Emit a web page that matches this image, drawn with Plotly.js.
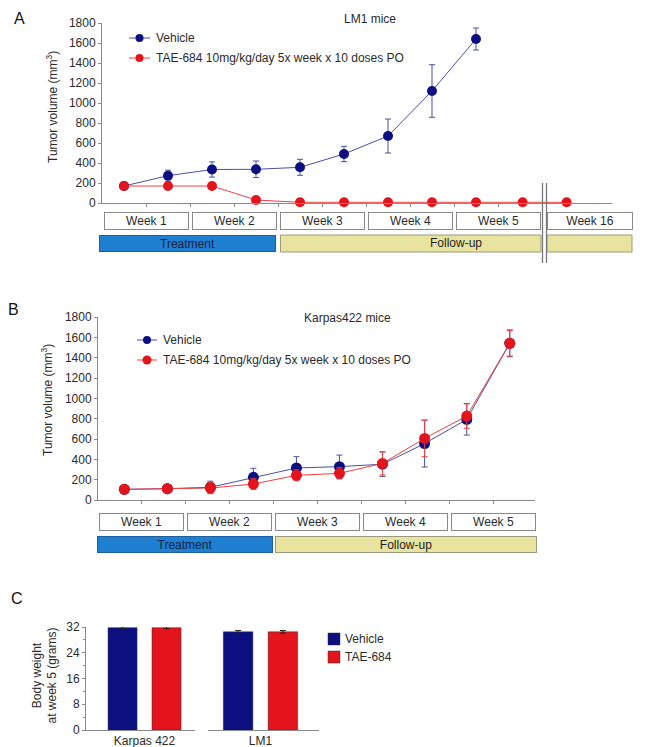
<!DOCTYPE html>
<html><head><meta charset="utf-8">
<script src="https://cdn.plot.ly/plotly-3.0.1.min.js"></script>
<style>html,body{margin:0;padding:0;background:#fff}#chart{width:645px;height:747px}</style>
</head><body><div id="chart"></div>
<script>
// ---------- DATA ----------
// Panel A: LM1 mice (time = displayed position in weeks on the broken axis)
const timeVehA = [0.25, 0.75, 1.25, 1.75, 2.25, 2.75, 3.25, 3.75, 4.25];
const vehA     = [170, 273, 335, 337, 357, 490, 670, 1120, 1640];
const vehAerr  = [0, 55, 76, 83, 80, 77, 170, 263, 110];
const timeTaeA = [0.25, 0.75, 1.25, 1.75, 2.25, 2.75, 3.25, 3.75, 4.25, 4.78, 5.28];
const taeA     = [170, 170, 170, 30, 7, 7, 7, 7, 7, 7, 7];
const weeksA   = ['Week 1', 'Week 2', 'Week 3', 'Week 4', 'Week 5', 'Week 16'];

// Panel B: Karpas422 mice
const timeB    = [0.30, 0.79, 1.28, 1.77, 2.26, 2.75, 3.24, 3.72, 4.20, 4.69];
const vehB     = [105, 111, 125, 223, 315, 328, 352, 555, 793, 1541];
const vehBerr  = [8, 8, 60, 89, 111, 114, 120, 230, 154, 132];
const taeB     = [105, 111, 118, 157, 243, 262, 360, 606, 826, 1541];
const taeBerr  = [8, 8, 55, 52, 53, 56, 114, 180, 121, 125];
const weeksB   = ['Week 1', 'Week 2', 'Week 3', 'Week 4', 'Week 5'];

// Panel C: body weight at week 5
const bwGroups = ['Karpas 422', 'LM1'];
const bwVeh    = [31.8, 30.5];
const bwVehErr = [0.3, 0.4];
const bwTae    = [31.8, 30.5];
const bwTaeErr = [0.35, 0.4];

const seriesNames = ['Vehicle', 'TAE-684 10mg/kg/day 5x week x 10 doses PO'];
const barNames = ['Vehicle', 'TAE-684'];

// ---------- STYLE / LAYOUT ----------
const W = 645, H = 747;
const px = v => v / W;
const py = v => (H - v) / H;
const FONT = 'Liberation Sans, Arial, Helvetica, sans-serif';
const NAVY = '#0b0f80', NAVY_LINE = '#4d4fa3', RED = '#e3141b', RED_LINE = '#ee4040';
const AX = '#8a8a8a', TXT = '#2a2a2a';

const axisBase = {
  showgrid: false, zeroline: false, showline: true, linecolor: AX, linewidth: 1,
  ticks: 'outside', ticklen: 3, tickcolor: AX, tickwidth: 1,
  tickfont: {family: FONT, size: 12, color: TXT}, fixedrange: true
};

const pxPerWeekA = 88, pxPerWeekB = 87.8;

const traces = [];
function lineTrace(x, y, err, name, col, lcol, xa, ya, msize) {
  return {
    type: 'scatter', mode: 'lines+markers', x: x, y: y, name: name,
    xaxis: xa, yaxis: ya, cliponaxis: false, showlegend: false,
    line: {color: lcol, width: 1},
    marker: {color: col, size: msize},
    error_y: err ? {type: 'data', array: err, visible: true, color: lcol, thickness: 1, width: 3} : {visible: false}
  };
}
traces.push(lineTrace(timeVehA, vehA, vehAerr, seriesNames[0], NAVY, NAVY_LINE, 'x', 'y', 10));
traces.push(lineTrace(timeTaeA, taeA, null, seriesNames[1], RED, RED_LINE, 'x', 'y', 10));
traces.push(lineTrace(timeB, vehB, vehBerr, seriesNames[0], NAVY, NAVY_LINE, 'x2', 'y2', 11));
traces.push(lineTrace(timeB, taeB, taeBerr, seriesNames[1], RED, RED_LINE, 'x2', 'y2', 11));

bwGroups.forEach((g, i) => {
  const xa = i === 0 ? 'x3' : 'x4';
  traces.push({type: 'bar', x: [g], y: [bwVeh[i]], name: barNames[0], xaxis: xa, yaxis: 'y3',
    offsetgroup: 'v', showlegend: false, marker: {color: NAVY, line: {color: '#333', width: 0.5}},
    error_y: {type: 'data', array: [bwVehErr[i]], color: '#222', thickness: 1, width: 3}});
  traces.push({type: 'bar', x: [g], y: [bwTae[i]], name: barNames[1], xaxis: xa, yaxis: 'y3',
    offsetgroup: 't', showlegend: false, marker: {color: RED, line: {color: '#333', width: 0.5}},
    error_y: {type: 'data', array: [bwTaeErr[i]], color: '#222', thickness: 1, width: 3}});
});

const halfTicks = [0.5, 1, 1.5, 2, 2.5, 3, 3.5, 4, 4.5];

const layout = {
  width: W, height: H, margin: {l: 0, r: 0, t: 0, b: 0},
  paper_bgcolor: '#fff', plot_bgcolor: 'rgba(0,0,0,0)',
  font: {family: FONT, size: 12, color: TXT},
  showlegend: false, barmode: 'group', bargap: 0.193, bargroupgap: 0.34,
  xaxis: Object.assign({}, axisBase, {domain: [px(102), px(612)], range: [0, 510 / pxPerWeekA],
    tickmode: 'array', tickvals: halfTicks, showticklabels: false, anchor: 'y'}),
  yaxis: Object.assign({}, axisBase, {domain: [py(203), py(23)], range: [0, 1800], dtick: 200, anchor: 'x'}),
  xaxis2: Object.assign({}, axisBase, {domain: [px(98), px(535)], range: [0, 437 / pxPerWeekB],
    tickmode: 'array', tickvals: halfTicks, showticklabels: false, anchor: 'y2'}),
  yaxis2: Object.assign({}, axisBase, {domain: [py(500), py(317)], range: [0, 1800], dtick: 200, anchor: 'x2'}),
  xaxis3: Object.assign({}, axisBase, {domain: [px(86), px(195)], type: 'category', range: [-0.537, 0.463],
    ticks: '', anchor: 'y3', ticklabelstandoff: 0}),
  xaxis4: Object.assign({}, axisBase, {domain: [px(208), px(319)], type: 'category', range: [-0.473, 0.527],
    ticks: '', anchor: 'y3', ticklabelstandoff: 0}),
  yaxis3: Object.assign({}, axisBase, {domain: [py(730), py(627)], range: [0, 32], dtick: 8, anchor: 'x3',
    minor: {dtick: 4, ticks: 'outside', ticklen: 2, tickcolor: AX}}),
  annotations: [], shapes: []
};

const A = layout.annotations, S = layout.shapes;
function txt(x, y, text, opts) {
  A.push(Object.assign({xref: 'paper', yref: 'paper', x: px(x), y: py(y), text: text, showarrow: false,
    xanchor: 'center', yanchor: 'middle', font: {family: FONT, size: 12, color: TXT}}, opts || {}));
}
function box(xref, xc, yc, w, h, text, bg, border, fcol) {
  A.push({xref: xref, yref: 'paper', x: xc, y: py(yc), text: text, showarrow: false,
    xanchor: 'center', yanchor: 'middle', width: w - 2, height: h - 2, borderpad: 0, borderwidth: 1,
    bgcolor: bg, bordercolor: border, font: {family: FONT, size: 12, color: fcol}});
}
function rectPx(x0, x1, y0, y1, fill, border, layer) {
  S.push({type: 'rect', xref: 'paper', yref: 'paper', layer: layer || 'below',
    x0: px(x0), x1: px(x1), y0: py(y1), y1: py(y0), fillcolor: fill, line: {color: border, width: 1}});
}

// Panel letters
txt(19, 19, 'A', {font: {family: FONT, size: 16, color: '#111'}});
txt(13, 309, 'B', {font: {family: FONT, size: 16, color: '#111'}});
txt(17, 598, 'C', {font: {family: FONT, size: 16, color: '#111'}});
// Panel titles
txt(370, 19, 'LM1 mice');
txt(347, 318, 'Karpas422 mice');
// Y titles
txt(52, 107, 'Tumor volume (mm<sup>3</sup>)', {textangle: -90});
txt(47, 400, 'Tumor volume (mm<sup>3</sup>)', {textangle: -90});
txt(44.5, 676, 'Body weight<br>at week 5 (grams)', {textangle: -90});

// Manual legends (A, B)
function legendItem(x0, x1, y, col, lcol, text, msz) {
  S.push({type: 'line', xref: 'paper', yref: 'paper', x0: px(x0), x1: px(x1), y0: py(y), y1: py(y), line: {color: lcol, width: 1}});
  const xc = (x0 + x1) / 2, r = msz / 2;
  S.push({type: 'circle', xref: 'paper', yref: 'paper', x0: px(xc - r), x1: px(xc + r), y0: py(y + r), y1: py(y - r),
    fillcolor: col, line: {color: col, width: 0}});
  txt(x1 + 4, y, text, {xanchor: 'left'});
}
legendItem(129, 150, 38, NAVY, NAVY_LINE, seriesNames[0], 8);
legendItem(129, 150, 58, RED, RED_LINE, seriesNames[1], 8);
legendItem(137, 157, 340, NAVY, NAVY_LINE, seriesNames[0], 8);
legendItem(137, 157, 360, RED, RED_LINE, seriesNames[1], 9);

// Legend C
[[639, NAVY, barNames[0]], [657, RED, barNames[1]]].forEach(([y, c, t]) => {
  S.push({type: 'rect', xref: 'paper', yref: 'paper', x0: px(328), x1: px(340), y0: py(y + 6), y1: py(y - 6),
    fillcolor: c, line: {color: '#333', width: 0.5}});
  txt(343, y, t, {xanchor: 'left'});
});

// Week boxes & phase bars, panel A
weeksA.forEach((w, i) => {
  const last = i === weeksA.length - 1;
  box('x', last ? 5.54 : i + 0.5, 221, last ? 86 : 85, 18, w, '#fff', '#8a8a8a', TXT);
});
const TREAT = '#1f80d2', TREAT_B = '#1d5f9a', FOLLOW = '#e8e49f', FOLLOW_B = '#9a9a80';
box('x', 0.972, 243.5, 177, 17, 'Treatment', TREAT, TREAT_B, '#14213d');
rectPx(280.5, 541, 235, 252, FOLLOW, FOLLOW_B);
rectPx(547, 632, 235, 252, FOLLOW, FOLLOW_B);
txt(456, 243.5, 'Follow-up', {font: {family: FONT, size: 12, color: '#1e1e1e'}});
// axis break
[542.5, 546.5].forEach(x => S.push({type: 'line', xref: 'paper', yref: 'paper', x0: px(x), x1: px(x),
  y0: py(183), y1: py(263), line: {color: '#777', width: 1.3}}));

// Week boxes & phase bars, panel B
weeksB.forEach((w, i) => box('x2', i + 0.5, 522, 85, 18, w, '#fff', '#8a8a8a', TXT));
box('x2', 0.99, 544.5, 176, 17, 'Treatment', TREAT, TREAT_B, '#14213d');
box('x2', 3.51, 544.5, 262, 17, 'Follow-up', FOLLOW, FOLLOW_B, '#1e1e1e');

Plotly.newPlot('chart', traces, layout, {displayModeBar: false, staticPlot: true});
</script>
</body></html>
